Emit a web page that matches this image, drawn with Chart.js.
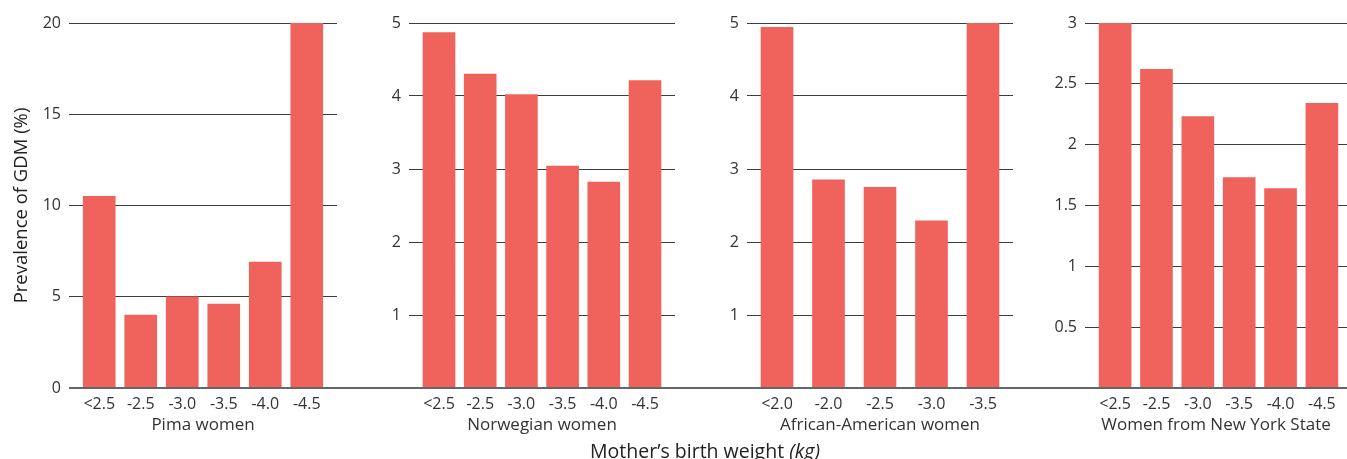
<!DOCTYPE html>
<html>
<head>
<meta charset="utf-8">
<script src="https://cdn.jsdelivr.net/npm/chart.js@4"></script>
<style>
  html, body { margin: 0; padding: 0; background: #fff; }
  #wrap { position: relative; width: 1347px; height: 459px; overflow: hidden; }
  canvas { position: absolute; top: 0; }
  #xtitle {
    position: absolute; left: 0; width: 1410px; top: 438px; line-height: 26px; text-align: center;
    font-family: "Open Sans", sans-serif; font-size: 19.5px; color: #222;
  }
</style>
</head>
<body>
<div id="wrap">
  <canvas id="c0" width="340" height="459" style="left:0px"></canvas>
  <canvas id="c1" width="338" height="459" style="left:340px"></canvas>
  <canvas id="c2" width="338" height="459" style="left:678px"></canvas>
  <canvas id="c3" width="331" height="459" style="left:1016px"></canvas>
  <div id="xtitle">Mother’s birth weight <i>(kg)</i></div>
</div>
<script>
// categories per group
const pimaCats = ["<2.5", "-2.5", "-3.0", "-3.5", "-4.0", "-4.5"];
const norwayCats = ["<2.5", "-2.5", "-3.0", "-3.5", "-4.0", "-4.5"];
const africanCats = ["<2.0", "-2.0", "-2.5", "-3.0", "-3.5"];
const nyCats = ["<2.5", "-2.5", "-3.0", "-3.5", "-4.0", "-4.5"];

// prevalence of GDM (%)
const pimaVals = [10.5, 4.0, 5.0, 4.6, 6.9, 20.0];
const norwayVals = [4.87, 4.30, 4.02, 3.04, 2.82, 4.21];
const africanVals = [4.94, 2.85, 2.75, 2.29, 5.0];
const nyVals = [3.0, 2.62, 2.23, 1.73, 1.64, 2.34];

const groupNames = ["Pima women", "Norwegian women", "African-American women", "Women from New York State"];
const yMax = [20, 5, 5, 3];
const yStep = [5, 1, 1, 0.5];

const groups = [
  { cats: pimaCats, vals: pimaVals },
  { cats: norwayCats, vals: norwayVals },
  { cats: africanCats, vals: africanVals },
  { cats: nyCats, vals: nyVals }
];

const FONT = "'Open Sans', sans-serif";
const BAR = "#f0635c";

// continuous baseline under the bars
const baseline = {
  id: "baseline",
  afterDatasetsDraw(chart, args, opts) {
    const { ctx, scales } = chart;
    const y = Math.round(scales.y.getPixelForValue(0));
    ctx.save();
    ctx.strokeStyle = "#666";
    ctx.lineWidth = 2;
    ctx.beginPath();
    ctx.moveTo(opts.first ? chart.chartArea.left : 0, y);
    ctx.lineTo(chart.width, y);
    ctx.stroke();
    ctx.restore();
  }
};

groups.forEach((g, i) => {
  const n = g.cats.length;
  const pad = (n - 1) * 30 / 206;
  const last = i === 3;
  new Chart(document.getElementById("c" + i), {
    type: "bar",
    data: {
      datasets: [{
        data: g.vals.map((v, k) => ({ x: k, y: v })),
        backgroundColor: BAR,
        barThickness: 32
      }]
    },
    options: {
      responsive: false,
      animation: false,
      devicePixelRatio: 1,
      layout: { padding: { top: 23, right: last ? 0 : 3, bottom: 0, left: 0 } },
      plugins: { legend: { display: false }, tooltip: { enabled: false }, baseline: { first: i === 0 } },
      scales: {
        x: {
          type: "linear",
          offset: false,
          min: -pad,
          max: last ? (n - 1) + pad * 25 / 30 : (n - 1) + pad,
          afterBuildTicks: s => { s.ticks = g.cats.map((c, k) => ({ value: k })); },
          afterFit: s => { s.height = 71; },
          grid: { display: false },
          border: { display: false },
          ticks: {
            autoSkip: false, maxRotation: 0, padding: -1,
            color: "#333", font: { family: FONT, size: 16 },
            callback: v => g.cats[v]
          },
          title: {
            display: true, text: groupNames[i], color: "#333",
            font: { family: FONT, size: 17 }, padding: { top: 0, bottom: 24 }
          }
        },
        y: {
          min: 0, max: yMax[i],
          afterFit: s => { s.width = 69; },
          grid: { color: "#3c3c3c", drawTicks: false },
          border: { display: false },
          ticks: {
            stepSize: yStep[i], padding: 8, color: "#333",
            font: { family: FONT, size: 16 },
            callback: v => (v === 0 && i > 0) ? "" : v
          },
          title: {
            display: i === 0, text: "Prevalence of GDM (%)", color: "#222",
            font: { family: FONT, size: 18.5 }, padding: { top: 11, bottom: 0 }
          }
        }
      }
    },
    plugins: [baseline]
  });
});
</script>
</body>
</html>
